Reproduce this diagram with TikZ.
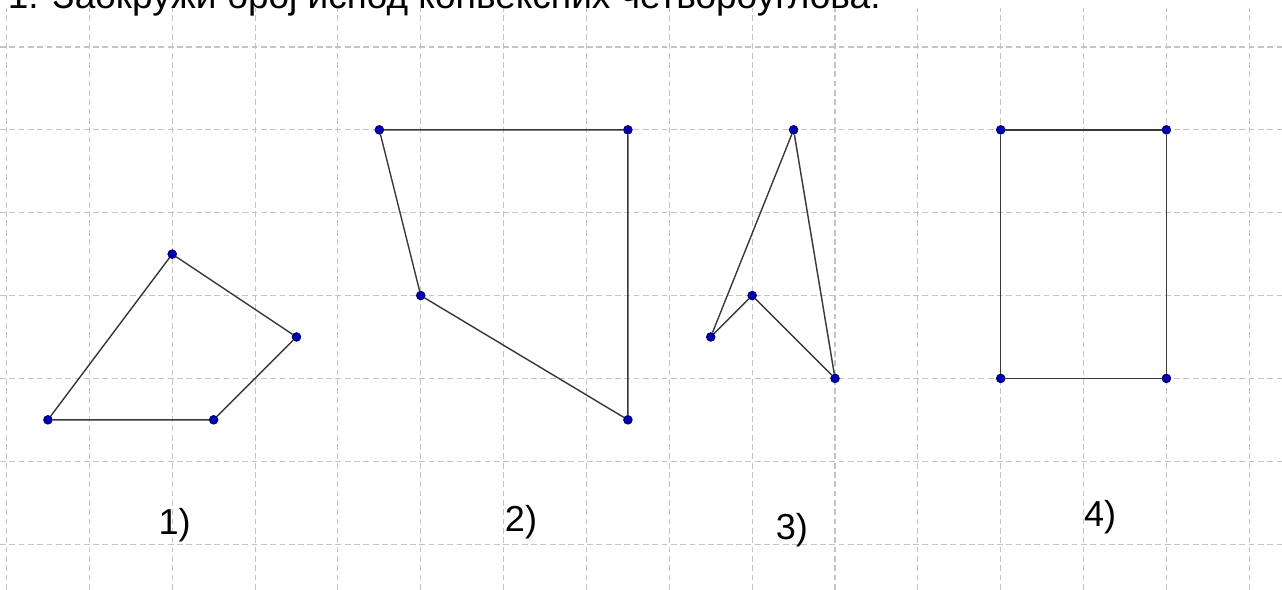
\documentclass[tikz,border=0pt]{standalone}
\usepackage{fontspec}
\setmainfont{Liberation Sans}
\usepackage{xcolor}
\usetikzlibrary{positioning}
\definecolor{gridgray}{HTML}{C4C4C4}
\definecolor{edgegray}{HTML}{383838}
\definecolor{dotblue}{HTML}{0000B4}
\definecolor{dotrim}{HTML}{00005A}

\begin{document}
\begin{tikzpicture}[
  gridline/.style={draw=gridgray, line width=0.38pt, dash pattern=on 2pt off 1.2pt},
  edge/.style={draw=edgegray, line width=0.48pt},
  dot/.style={circle, fill=dotblue, draw=dotrim, line width=0.25pt, inner sep=0pt, minimum size=3pt},
  tag/.style={font=\fontsize{12.4}{14}\selectfont}
]
  \useasboundingbox (-0.0785,-6.542) rectangle (15.395,0.567);
  % squared paper
  \draw[gridline] (-0.0785,-6.55) grid (15.4,0.47);
  \node[anchor=base west, inner sep=0pt, font=\fontsize{12.7}{15}\selectfont] (title) at (0.01,0.46)
    {1. Заокружи број испод конвексних четвороуглова.};

  % 1)
  \node[dot] (a1) at (2,-2.5) {};
  \node[dot] (a2) at (3.5,-3.5) {};
  \node[dot] (a3) at (2.5,-4.5) {};
  \node[dot] (a4) at (0.5,-4.5) {};
  \draw[edge] (a1) -- (a2) -- (a3) -- (a4) -- (a1);

  % 2)
  \node[dot] (b1) at (4.5,-1) {};
  \node[dot] (b2) at (7.5,-1) {};
  \node[dot] (b3) at (7.5,-4.5) {};
  \node[dot] (b4) at (5,-3) {};
  \draw[edge] (b1) -- (b2) -- (b3) -- (b4) -- (b1);

  % 3)
  \node[dot] (c1) at (9.5,-1) {};
  \node[dot] (c2) at (10,-4) {};
  \node[dot] (c3) at (9,-3) {};
  \node[dot] (c4) at (8.5,-3.5) {};
  \draw[edge] (c1) -- (c2) -- (c3) -- (c4) -- (c1);

  % 4)
  \node[dot] (d1) at (12,-1) {};
  \node[dot] (d2) at (14,-1) {};
  \node[dot] (d3) at (14,-4) {};
  \node[dot] (d4) at (12,-4) {};
  \draw[edge] (d1) -- (d2) -- (d3) -- (d4) -- (d1);

  % numbers
  \node[tag] (n1) at (2.03,-5.77) {1)};
  \node[tag] (n2) at (6.21,-5.73) {2)};
  \node[tag] (n3) at (9.48,-5.83) {3)};
  \node[tag] (n4) at (13.2,-5.67) {4)};
\end{tikzpicture}
\end{document}
